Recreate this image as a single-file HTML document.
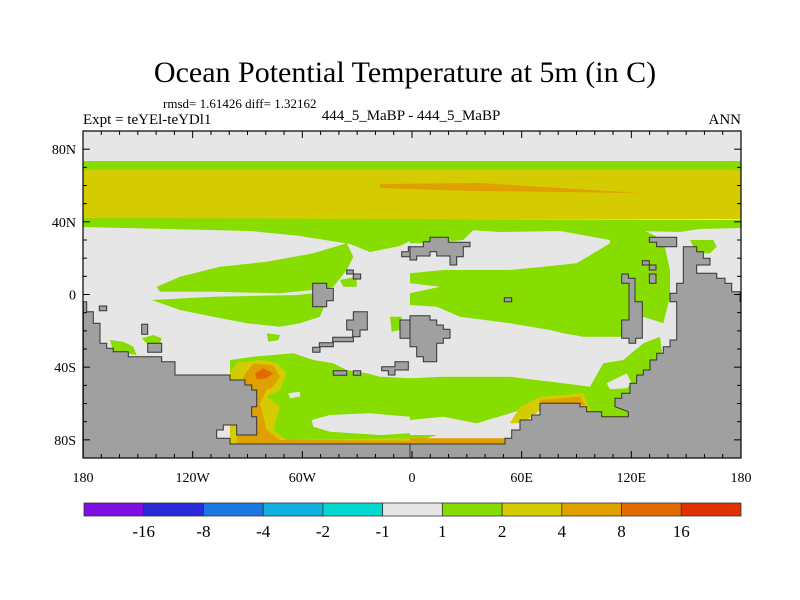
<!DOCTYPE html>
<html><head><meta charset="utf-8"><style>
body{margin:0;background:#fff;}
svg{display:block;font-family:"Liberation Serif",serif;}
</style></head><body>
<svg id="s" width="800" height="600" viewBox="0 0 800 600">
<text x="405" y="82" text-anchor="middle" font-size="30">Ocean Potential Temperature at 5m (in C)</text>
<text x="163" y="108" font-size="13">rmsd= 1.61426 diff= 1.32162</text>
<text x="83" y="124" font-size="15">Expt = teYEl-teYDl1</text>
<text x="411" y="120" text-anchor="middle" font-size="15">444_5_MaBP - 444_5_MaBP</text>
<text x="741" y="124" text-anchor="end" font-size="15">ANN</text>
<g id="map"></g>
<g id="axes"></g>
<g id="cbar"></g>
</svg>
<script>
const cbColors=["#7d0fe0","#2a2ad8","#1a78e0","#12b0e0","#00d8d0","#e6e6e6","#88dd00","#d4cc00","#e0a000","#e06a00","#e03200"];
const cbLabels=["-16","-8","-4","-2","-1","1","2","4","8","16"];
const latTicks=["80N","40N","0","40S","80S"];
const latVals=[80,40,0,-40,-80];
const lonTicks=["180","120W","60W","0","60E","120E","180"];
const lonVals=[-180,-120,-60,0,60,120,180];
const NS="http://www.w3.org/2000/svg";
const X0=83,X1=741,Y0=131,Y1=458;
const xs=v=>X0+(v+180)/360*(X1-X0);
const ys=v=>Y0+(90-v)/180*(Y1-Y0);
function el(t,a,p){const e=document.createElementNS(NS,t);for(const k in a)e.setAttribute(k,a[k]);p.appendChild(e);return e;}
const map=document.getElementById('map');
const G="#88dd00",Yc="#d4cc00",O="#e0a000",DO="#e06a00",L="#a0a0a0",W="#e6e6e6";
function poly(pts,ox,fill,name,stroke){
  const p=[];for(let i=0;i<pts.length;i+=2)p.push((ox+pts[i]/3).toFixed(1)+","+(130+pts[i+1]/3).toFixed(1));
  const e=el('polygon',{points:p.join(' '),fill:fill},map);
  if(stroke){e.setAttribute('stroke','#333');e.setAttribute('stroke-width','1');}
  
  
}
function rect(x,y,w,h,fill,name){const e=el('rect',{x:x,y:y,width:w,height:h,fill:fill},map);
  
  }
rect(X0,Y0,X1-X0,Y1-Y0,W,'ocean-background');
rect(X0,161,X1-X0,9,G,'green-band-north');
rect(X0,170,X1-X0,49,Yc,'yellow-band-north');
el('polygon',{points:"380,184 480,183 560,188 640,193 560,192 470,191 380,188",fill:O},map);
el('polygon',{points:"83,218 741,220 741,228 700,229 680,232 640,231 628,240 610,240 560,231 500,232 470,230 440,228 420,236 400,246 370,252 350,244 300,236 250,231 83,227",fill:G},map);
poly([230,470,300,440,420,410,560,395,700,370,800,340,820,380,800,420,760,470,700,480,600,490,400,485,240,485],80,G,'green-streak-1');
poly([215,510,400,500,650,495,700,490,740,510,720,560,660,580,600,590,500,580,400,560,300,540],80,G,'green-streak-2');
poly([560,610,600,615,595,630,565,635],80,G,'green-spot');
poly([930,560,965,560,960,600,935,605],80,G,'green-spot-2');
poly([90,630,130,635,160,650,170,675,100,665],80,G,'green-patch-sw');
poly([185,625,220,615,245,625,240,640,200,640],80,G,'green-patch-sw2');
poly([780,450,830,440,830,470,790,470],80,G,'green-spot-3');
poly([0,430,100,420,200,420,300,420,400,410,500,400,600,340,600,300,700,300,760,330,780,420,780,500,760,580,700,560,690,600,640,620,520,620,460,610,420,600,300,580,150,560,80,530,0,525,0,490,90,470,0,460],410,G,'green-streak-3');
poly([0,280,200,290,160,330,60,340,0,340],410,G,'green-patch');
poly([840,330,910,330,920,350,900,370,860,370],410,G,'green-patch-e');
poly([450,690,520,680,640,670,700,690,760,700,800,720,860,730,900,740,990,745,990,940,450,940],80,G,'green-band-south-l');
poly([0,745,100,740,300,740,460,760,540,770,580,700,640,690,700,640,750,620,760,700,720,770,700,800,660,860,560,860,400,820,0,940],410,G,'green-band-south-r');
poly([695,870,750,855,870,850,990,860,990,910,900,915,750,905,700,890],80,W,'white-blob-s1');
poly([0,870,100,860,200,880,230,910,150,915,0,915],410,W,'white-blob-s2');
poly([625,790,660,785,660,800,630,805],80,W,'white-blob-s3');
poly([590,760,650,730,665,760,650,775,600,778],410,W,'white-blob-s4');
poly([450,730,470,700,540,690,590,700,620,730,600,780,560,800,600,830,580,900,620,930,990,925,990,945,450,945],80,Yc,'yellow-south');
poly([490,740,520,700,580,705,600,740,580,770,560,780,540,820,560,900,600,930,990,932,990,945,470,945],80,O,'orange-south');
poly([525,730,550,715,580,730,560,745,530,748],80,DO,'red-spot');
poly([0,925,300,925,280,945,0,945],410,O,'orange-south-r');
poly([300,880,330,830,390,800,520,790,540,840,520,860,390,840,340,880],410,Yc,'yellow-south-r');
poly([390,810,510,800,525,825,390,822],410,O,'orange-south-r2');
poly([10,515,20,515,20,545,40,545,40,580,60,580,60,640,80,640,80,655,100,655,100,665,145,665,145,680,245,680,245,695,285,695,285,735,450,735,450,750,495,750,495,765,515,765,515,780,530,780,530,830,515,830,515,860,530,860,530,915,470,915,470,885,430,885,430,900,410,900,410,925,450,925,450,942,990,942,990,984,10,984],80,L,'land-southwest',1);
poly([0,942,285,942,285,925,305,925,305,900,330,900,330,870,365,870,365,855,390,855,390,820,510,820,510,830,530,830,530,845,575,845,575,860,655,860,655,845,615,830,615,805,635,805,635,790,660,790,660,760,680,760,680,735,700,735,700,720,720,720,720,690,740,690,740,670,760,670,760,650,780,650,780,630,800,630,800,515,780,515,780,490,800,490,800,460,820,460,820,350,860,350,860,365,880,365,880,385,900,385,900,405,860,405,860,430,920,430,920,445,945,445,945,460,965,460,965,485,990,485,990,515,993,515,993,984,0,984],410,L,'land-southeast',1);
const isl=[[80,[58,528,80,528,80,542,58,542]],[80,[185,583,203,583,203,613,185,613]],[80,[203,640,245,640,245,667,203,667]],
[80,[698,460,740,460,740,475,760,475,760,512,740,512,740,530,698,530]],
[80,[820,545,862,545,862,600,840,600,840,620,820,620,820,635,760,635,760,650,720,650,720,667,698,667,698,652,718,652,718,638,758,638,758,622,818,622,818,600,800,600,800,570,820,570]],
[80,[800,420,820,420,820,432,842,432,842,447,820,447,820,432,800,432]],[80,[760,722,800,722,800,736,760,736]],[80,[820,722,842,722,842,736,820,736]],
[80,[905,710,945,710,945,695,985,695,985,720,945,720,945,735,925,735,925,722,905,722]],[80,[985,350,990,350,990,380,965,380,965,365,985,365]],
[410,[-30,570,0,570,0,625,-30,625]],
[410,[0,350,40,350,40,335,60,335,60,322,115,322,115,337,180,337,180,350,160,350,160,380,140,380,140,405,120,405,120,378,80,378,80,365,60,365,60,378,20,378,20,390,0,390]],
[410,[283,503,305,503,305,515,283,515]],
[410,[0,557,60,557,60,570,80,570,80,585,100,585,100,598,120,598,120,625,100,625,100,640,80,640,80,695,40,695,40,680,20,680,20,650,0,650]],
[410,[635,432,655,432,655,445,675,445,675,515,697,515,697,625,677,625,677,640,657,640,657,625,635,625,635,570,657,570,657,460,635,460]],
[410,[718,322,800,322,800,350,740,350,740,337,718,337]],[410,[697,392,718,392,718,405,697,405]],[410,[718,405,738,405,738,420,718,420]],[410,[718,432,738,432,738,460,718,460]]];
isl.forEach((d,i)=>poly(d[1],d[0],L,'island-'+i,1));
const ax=document.getElementById('axes');
el('rect',{x:X0,y:Y0,width:X1-X0,height:Y1-Y0,fill:'none',stroke:'#000','stroke-width':1.2},ax);
for(let v=-180;v<=180;v+=10){const x=xs(v),l=(v%60===0)?7:4;
 el('line',{x1:x,y1:Y0,x2:x,y2:Y0+l,stroke:'#000'},ax);el('line',{x1:x,y1:Y1,x2:x,y2:Y1-l,stroke:'#000'},ax);}
for(let v=-90;v<=90;v+=10){const y=ys(v),l=(v%40===0&&Math.abs(v)<90)?7:4;
 el('line',{x1:X0,y1:y,x2:X0+l,y2:y,stroke:'#000'},ax);el('line',{x1:X1,y1:y,x2:X1-l,y2:y,stroke:'#000'},ax);}
latVals.forEach((v,i)=>{const t=el('text',{x:X0-7,y:ys(v)+5,'text-anchor':'end','font-size':14},ax);t.textContent=latTicks[i];
 
 });
lonVals.forEach((v,i)=>{const t=el('text',{x:xs(v),y:482,'text-anchor':'middle','font-size':14},ax);t.textContent=lonTicks[i];
 
 });
const cb=document.getElementById('cbar');const CX0=84,CX1=741,bw=(CX1-CX0)/cbColors.length;
cbColors.forEach((c,i)=>{const r=el('rect',{x:CX0+i*bw,y:503,width:bw,height:13,fill:c,stroke:'#333','stroke-width':0.8},cb);
 
 });
cbLabels.forEach((l,i)=>{const t=el('text',{x:CX0+(i+1)*bw,y:537,'text-anchor':'middle','font-size':17},cb);t.textContent=l;
 
 });
</script>
</body></html>
